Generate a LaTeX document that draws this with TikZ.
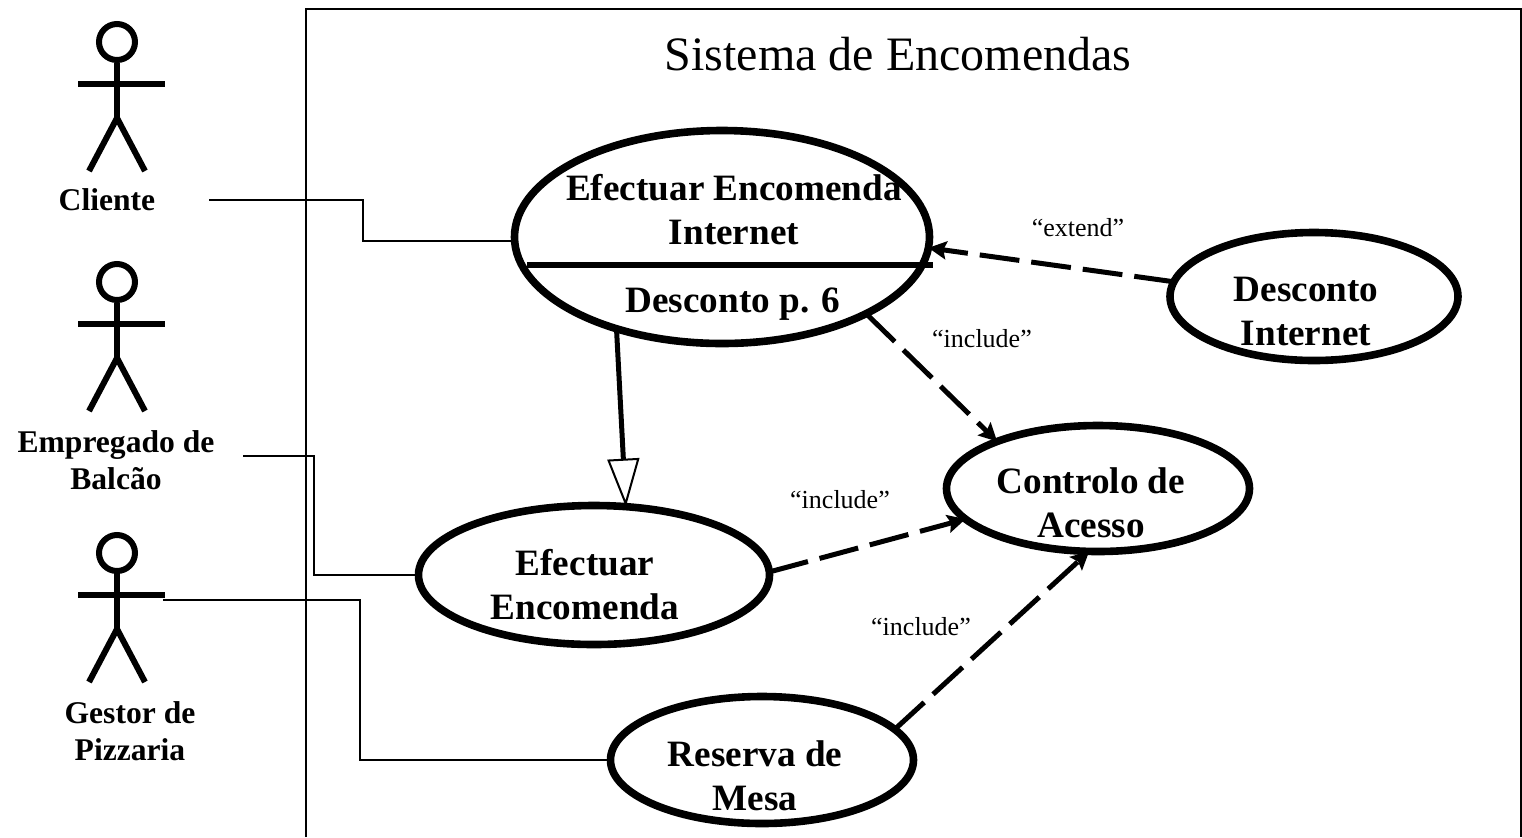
\documentclass[tikz,border=0pt]{standalone}
\usepackage{fontspec}
\setmainfont{Liberation Serif}
\usetikzlibrary{arrows.meta,shapes.geometric}

\tikzset{
  usecase/.style={ellipse,draw,line width=3.8pt,inner sep=0pt,outer sep=0pt},
  heading/.style={align=center,inner sep=0pt,font=\fontsize{24}{28}\selectfont},
  casetext/.style={align=center,inner sep=0pt,font=\fontsize{18.6}{22}\selectfont\bfseries},
  actortext/.style={align=center,inner sep=0pt,font=\fontsize{15.8}{18.5}\selectfont\bfseries},
  stereo/.style={inner sep=0pt,font=\fontsize{13}{15}\selectfont},
  assoc/.style={line width=1pt},
  depend/.style={line width=2.5pt,dash pattern=on 20pt off 6pt,-{Stealth[length=9pt,width=9pt,inset=1.5pt]}},
  general/.style={line width=2.5pt,-{Triangle[open,length=24pt,width=16pt,line width=1pt,fill=white]}},
  actor/.pic={
    \node[circle,draw,line width=3pt,minimum size=18pt,inner sep=0pt] (-head) at (0,0) {};
    \draw[line width=3pt] (-head) -- (0,76);
    \draw[line width=3pt] (-39,42) -- (48,42);
    \draw[line width=3pt] (-28,129) -- (0,76) -- (28,129);
  }
}

\begin{document}
\begin{tikzpicture}[x=0.5pt,y=-0.5pt]
\useasboundingbox (0,0) rectangle (1522,837);

\draw[line width=1.2pt] (306,837) -- (306,9) -- (1521,9) -- (1521,837);
\node[heading] (title) at (898,54) {Sistema de Encomendas};

\pic (cliente)  at (117,42)  {actor};
\pic (balcao)   at (117,282) {actor};
\pic (gestor)   at (117,553) {actor};

\node[actortext] (clientetxt)  at (107,200) {Cliente};
\node[actortext] (balcaotxt)   at (116,460) {Empregado de\\Balcão};
\node[actortext] (gestortxt)   at (130,731) {Gestor de\\Pizzaria};

\node[usecase,minimum width=207.5pt,minimum height=106.5pt] (internet) at (722,237)    {};
\node[usecase,minimum width=144pt,minimum height=64pt]      (desconto) at (1314,296.5) {};
\node[usecase,minimum width=151.5pt,minimum height=63pt]    (controlo) at (1098,488.5) {};
\node[usecase,minimum width=175.5pt,minimum height=69.5pt]  (efectuar) at (594,575)    {};
\node[usecase,minimum width=151.5pt,minimum height=63.5pt]  (reserva)  at (762,760)    {};

\node[casetext] (internettxt) at (734,210)  {Efectuar Encomenda\\Internet};
\node[casetext] (promotxt)    at (733,304)  {Desconto p. 6};
\node[casetext] (descontotxt) at (1306,311) {Desconto\\Internet};
\node[casetext] (controlotxt) at (1091,503) {Controlo de\\Acesso};
\node[casetext] (efectuartxt) at (585,585)  {Efectuar\\Encomenda};
\node[casetext] (reservatxt)  at (755,776)  {Reserva de\\Mesa};

\node[stereo] (extendlbl)   at (1078,228) {“extend”};
\node[stereo] (includelbla) at (982,339)  {“include”};
\node[stereo] (includelblb) at (840,500)  {“include”};
\node[stereo] (includelblc) at (921,627)  {“include”};

\coordinate (clienteend) at (209,200);
\coordinate (balcaoend)  at (243,456);
\coordinate (gestorend)  at (163,600);
\coordinate (lineleft)   at (527,265);
\coordinate (lineright)  at (933,265);

\draw[line width=2.8pt] (lineleft) -- (lineright);

\draw[assoc] (clienteend) -- ++(154,0) |- (internet.181);
\draw[assoc] (balcaoend)  -- ++(71,0)  |- (efectuar.180);
\draw[assoc] (gestorend)  -- ++(197,0) |- (reserva.180.5);

\draw[general] (internet.221) -- (efectuar.65.6);

\draw[depend] (desconto.174.6) -- (internet.-3);
\draw[depend] (internet.-28)   -- (controlo.155);
\draw[depend] (efectuar.1.6)   -- (controlo.193.6);
\draw[depend] (reserva.13)     -- (controlo.-98.5);

\end{tikzpicture}
\end{document}
